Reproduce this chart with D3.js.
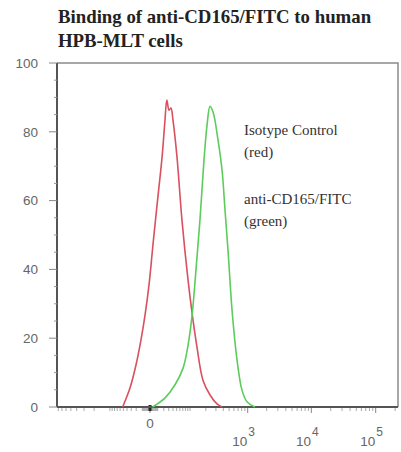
<!DOCTYPE html>
<html>
<head>
<meta charset="utf-8">
<script src="https://d3js.org/d3.v7.min.js"></script>
<style>
  body { margin: 0; background: #fff; }
  svg { display: block; }
  .title { font-family: "Liberation Serif", "Times New Roman", serif; font-weight: bold; font-size: 18.8px; fill: #222; }
  .legend { font-family: "Liberation Serif", "Times New Roman", serif; font-size: 15px; fill: #333; }
  .tick-label { font-family: "Liberation Sans", Arial, sans-serif; font-size: 13.5px; fill: #666; }
</style>
</head>
<body>
<div id="chart"></div>
<script>
// fluorescence channel values (biexponential axis) and % of max counts
const redX = [-52, -32.8, -20.4, -11.9, -6.1, -1.1, 3.5, 9, 17, 22, 26, 30.6, 35, 40, 51, 67, 91, 110, 137, 177, 237, 313, 381];
const redY = [0, 5.5, 12.2, 19.5, 26.7, 35.5, 47.1, 58.7, 72.7, 82.8, 89.2, 86.3, 86.9, 83.4, 72.7, 54.4, 36.9, 27.3, 17.4, 7.8, 3.5, 0.9, 0];

const greenX = [3, 22, 45, 71, 91, 110, 131, 156, 185, 210, 237, 267, 326, 381, 427, 479, 558, 673, 810, 976, 1310];
const greenY = [0, 2.6, 6.4, 11.3, 18, 26.7, 39.8, 54.4, 71.8, 82, 87.4, 85.8, 77.6, 68.9, 57.3, 45.6, 28.2, 13.7, 4.9, 1.5, 0];

const yTicks = [0, 20, 40, 60, 80, 100];
const xTicks = [0, 1000, 10000, 100000];
const xTickExp = ["", "3", "4", "5"];

const titleLines = ["Binding of anti-CD165/FITC to human", "HPB-MLT cells"];
const legendLines = ["Isotype Control", "(red)", "anti-CD165/FITC", "(green)"];

const width = 401, height = 452;
const margin = { top: 63, right: 3, bottom: 45, left: 57 };

const svg = d3.select("#chart").append("svg")
  .attr("width", width)
  .attr("height", height);

const x = d3.scaleSymlog()
  .constant(31.4)
  .domain([-840, 222000])
  .range([margin.left, width - margin.right]);

const y = d3.scaleLinear()
  .domain([0, 100])
  .range([height - margin.bottom, margin.top]);

// frame (top + right)
svg.append("path")
  .attr("d", `M${margin.left},${margin.top}H${width - margin.right}V${height - margin.bottom}`)
  .attr("fill", "none")
  .attr("stroke", "#8a8a8a")
  .attr("stroke-width", 1.5);

// y axis
const yAxis = svg.append("g");
yAxis.append("line")
  .attr("x1", margin.left).attr("x2", margin.left)
  .attr("y1", y(0)).attr("y2", y(100))
  .attr("stroke", "#555").attr("stroke-width", 2);
yAxis.selectAll("line.minor")
  .data(d3.range(0, 101, 5).filter(d => d % 20 !== 0))
  .enter().append("line")
  .attr("class", "minor")
  .attr("x1", margin.left - 3).attr("x2", margin.left)
  .attr("y1", d => y(d)).attr("y2", d => y(d))
  .attr("stroke", "#999").attr("stroke-width", 1);
yAxis.selectAll("line.major")
  .data(yTicks)
  .enter().append("line")
  .attr("class", "major")
  .attr("x1", margin.left - 8).attr("x2", margin.left)
  .attr("y1", d => y(d)).attr("y2", d => y(d))
  .attr("stroke", "#888").attr("stroke-width", 1);
yAxis.selectAll("text")
  .data(yTicks)
  .enter().append("text")
  .attr("class", "tick-label")
  .attr("x", margin.left - 19)
  .attr("y", d => y(d))
  .attr("dy", "0.35em")
  .attr("text-anchor", "end")
  .text(d => d);

// x axis
const xAxis = svg.append("g");
const minor = [];
[1, 10, 100, 1000, 10000, 100000].forEach(p => {
  for (let k = 1; k <= 9; k++) {
    const v = k * p;
    if (v > x.domain()[1]) continue;
    minor.push(v);
    if (-v >= x.domain()[0]) minor.push(-v);
  }
});
xAxis.selectAll("line.minor")
  .data(minor.filter(v => x(v) - margin.left > 1 && !xTicks.includes(v)))
  .enter().append("line")
  .attr("class", "minor")
  .attr("x1", d => x(d)).attr("x2", d => x(d))
  .attr("y1", y(0)).attr("y2", y(0) + 4)
  .attr("stroke", "#aaa").attr("stroke-width", 1);
xAxis.selectAll("line.major")
  .data(xTicks)
  .enter().append("line")
  .attr("class", "major")
  .attr("x1", d => x(d)).attr("x2", d => x(d))
  .attr("y1", y(0)).attr("y2", y(0) + 6)
  .attr("stroke", "#888").attr("stroke-width", 1);
// zero marker
xAxis.append("rect")
  .attr("x", x(0) - 1.5).attr("y", y(0) - 2)
  .attr("width", 3).attr("height", 6)
  .attr("fill", "#222");
xAxis.append("line")
  .attr("x1", margin.left).attr("x2", width - margin.right)
  .attr("y1", y(0)).attr("y2", y(0))
  .attr("stroke", "#555").attr("stroke-width", 2);

const xl = xAxis.selectAll("text")
  .data(xTicks)
  .enter().append("text")
  .attr("class", "tick-label")
  .attr("x", (d, i) => x(d) - (i ? 4 : 0))
  .attr("y", (d, i) => i ? 446 : 428)
  .attr("text-anchor", "middle");
xl.append("tspan").text((d, i) => i ? "10" : "0");
xl.append("tspan")
  .attr("dy", -10)
  .attr("dx", 1)
  .attr("font-size", "12px")
  .text((d, i) => xTickExp[i]);

// histograms
const line = d3.line()
  .x(d => x(d[0]))
  .y(d => y(d[1]))
  .curve(d3.curveCatmullRom.alpha(0.5));

svg.append("path")
  .datum(redX.map((v, i) => [v, redY[i]]))
  .attr("d", line)
  .attr("fill", "none")
  .attr("stroke", "#d9505e")
  .attr("stroke-width", 1.6);

svg.append("path")
  .datum(greenX.map((v, i) => [v, greenY[i]]))
  .attr("d", line)
  .attr("fill", "none")
  .attr("stroke", "#5ccc5c")
  .attr("stroke-width", 1.6);

// title
svg.selectAll("text.title")
  .data(titleLines)
  .enter().append("text")
  .attr("class", "title")
  .attr("x", 58)
  .attr("y", (d, i) => 23 + i * 24)
  .text(d => d);

// legend text
svg.selectAll("text.legend")
  .data(legendLines)
  .enter().append("text")
  .attr("class", "legend")
  .attr("x", 244)
  .attr("y", (d, i) => [135, 157, 204, 226][i])
  .text(d => d);
</script>
</body>
</html>
